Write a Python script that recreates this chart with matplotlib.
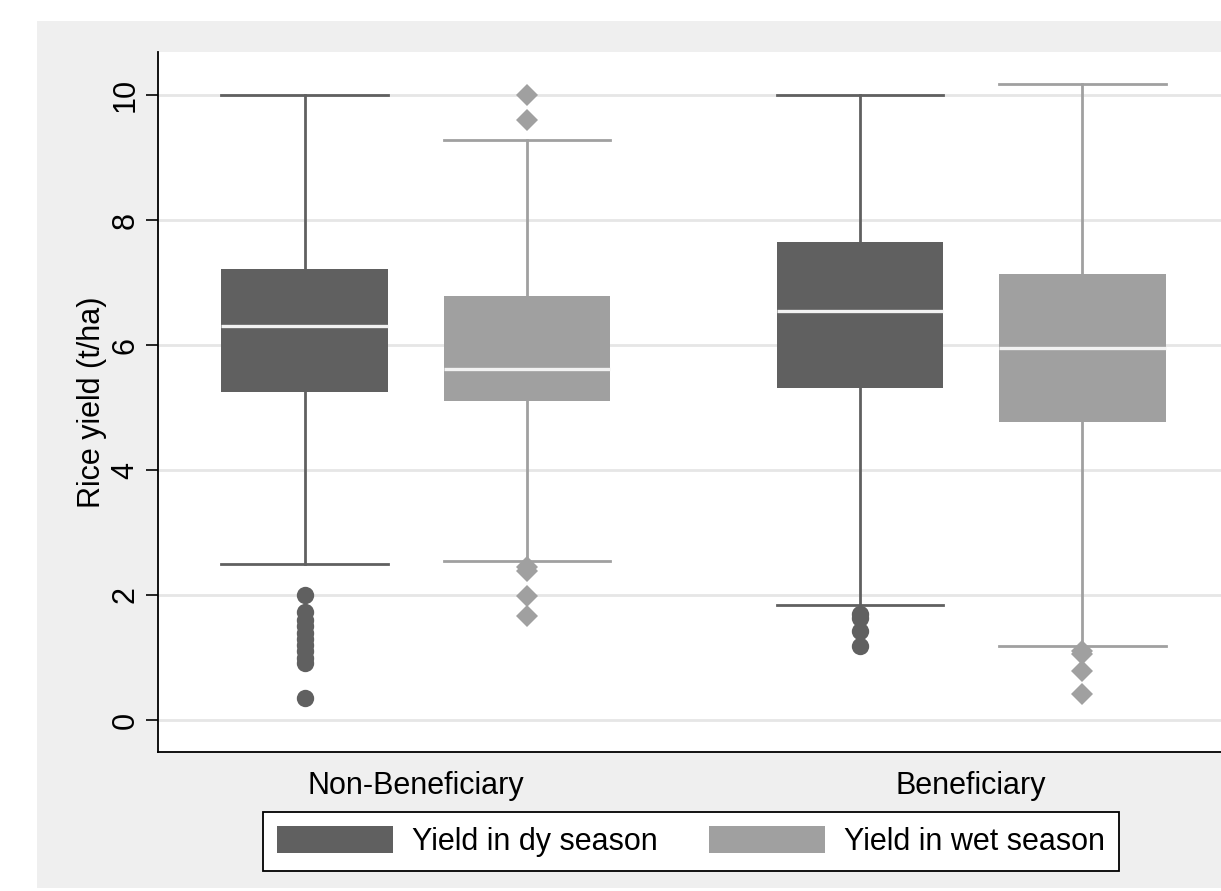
import matplotlib.pyplot as plt
from matplotlib.patches import Rectangle, Patch

plt.rcParams['font.family'] = ['Liberation Sans', 'DejaVu Sans']

groups = ['Non-Beneficiary', 'Beneficiary']
series = ['Yield in dy season', 'Yield in wet season']
positions = [1, 2, 3.5, 4.5]
colors = ['#606060', '#a0a0a0', '#606060', '#a0a0a0']
markers = ['o', 'D', 'o', 'D']

# box statistics: q1, median, q3, whisker low, whisker high
q1 = [5.25, 5.10, 5.31, 4.77]
med = [6.30, 5.62, 6.54, 5.95]
q3 = [7.21, 6.79, 7.65, 7.14]
whislo = [2.50, 2.54, 1.84, 1.19]
whishi = [10.0, 9.28, 10.0, 10.17]
fliers = [
    [2.0, 1.73, 1.6, 1.5, 1.4, 1.3, 1.2, 1.1, 1.0, 0.91, 0.35],
    [10.0, 9.6, 2.45, 2.38, 1.99, 1.67],
    [1.70, 1.64, 1.43, 1.18],
    [1.10, 1.06, 0.79, 0.42],
]

fs = 22

fig = plt.figure(figsize=(12.21, 8.91), dpi=100)
fig.patch.set_facecolor('white')
fig.patches.append(Rectangle((37 / 1221, 1 - 888 / 891), 1, (888 - 21) / 891,
                             transform=fig.transFigure, facecolor='#efefef',
                             edgecolor='none', zorder=-10))

ax = fig.add_axes([158 / 1221, 1 - 752 / 891, (1229 - 158) / 1221, (752 - 52) / 891])
ax.set_facecolor('white')

stats = []
for i in range(4):
    stats.append(dict(q1=q1[i], med=med[i], q3=q3[i], whislo=whislo[i],
                      whishi=whishi[i], fliers=[]))

bw = 0.752
for i in range(4):
    c = colors[i]
    ax.bxp([stats[i]], positions=[positions[i]], widths=bw, patch_artist=True,
           showfliers=False, capwidths=bw,
           boxprops=dict(facecolor=c, edgecolor=c, linewidth=0),
           medianprops=dict(color='#f2f2f2', linewidth=2.4),
           whiskerprops=dict(color=c, linewidth=2),
           capprops=dict(color=c, linewidth=2),
           zorder=3)
    ms = 12.5 if markers[i] == 'o' else 11.7
    ax.plot([positions[i]] * len(fliers[i]), fliers[i], linestyle='none',
            marker=markers[i], markersize=ms, color=c, markeredgewidth=0, zorder=4)

ax.set_xlim(0.338, 5.162)
ax.set_ylim(-0.512, 10.69)
ax.set_yticks([0, 2, 4, 6, 8, 10])
ax.set_yticklabels(['0', '2', '4', '6', '8', '10'], rotation=90, va='center', fontsize=fs)
ax.set_xticks([1.5, 4.0])
ax.set_xticklabels(groups, fontsize=fs)
ax.tick_params(axis='x', length=0, pad=14)
ax.tick_params(axis='y', length=8.6, width=1.2, pad=4)
ax.grid(axis='y', color='#e6e6e6', linewidth=2)
ax.set_axisbelow(True)
for s in ['top', 'right']:
    ax.spines[s].set_visible(False)
for s in ['left', 'bottom']:
    ax.spines[s].set_linewidth(1.3)
ax.set_ylabel('Rice yield (t/ha)', fontsize=fs, labelpad=2.5)

handles = [Patch(facecolor='#606060', edgecolor='none'),
           Patch(facecolor='#a0a0a0', edgecolor='none')]
leg = fig.legend(handles, series, loc='center', bbox_to_anchor=(691 / 1221, 1 - 841.5 / 891),
                 ncol=2, fontsize=fs, frameon=True, fancybox=False, edgecolor='black',
                 framealpha=1, handlelength=3.8, handleheight=1.0, columnspacing=1.7,
                 handletextpad=0.6, borderpad=0.45, borderaxespad=0)
leg.get_frame().set_linewidth(1.3)

fig.savefig('out.png', dpi=100)
